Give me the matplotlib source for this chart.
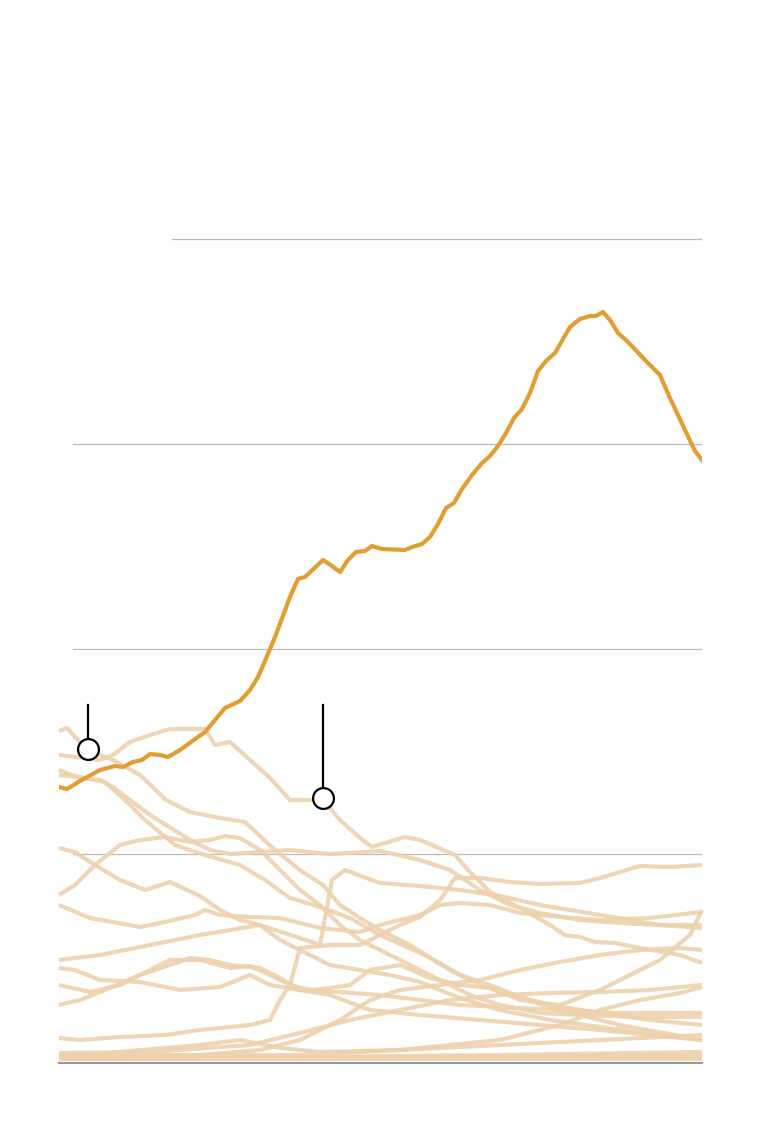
import matplotlib
matplotlib.use("Agg")
import matplotlib.pyplot as plt
import numpy as np

# Readings: (x reading, y reading) per series; converted to years / values below
main_x = [59,67,80,100,115,123,133,142,150,160,168,180,205,225,240,250,258,265,275,290,298,305,323,332,340,348,356,365,372,382,405,412,422,430,438,446,454,462,472,482,490,498,506,514,522,530,538,546,555,570,580,590,596,603,610,618,627,645,660,670,685,695,702]
main_y = [787,789,781,770,766,767,762,760,754,755,757,750,732,708,701,690,677,661,637,597,579,577,560,566,572,560,552,551,546,549,550,547,544,537,524,508,503,489,475,463,456,446,433,418,409,393,371,361,353,327,319,316,316,312,320,333,341,360,375,398,430,451,460]

bg = [
 ([59,67,80,100,113,140,166,190,220,245,275,300,323,340,360,380,410,434,460,490,520,550,600,650,702],
  [731,728,742,755,760,775,800,812,818,822,850,870,885,905,918,930,945,960,975,985,997,1005,1013,1020,1025]),
 ([59,100,113,130,150,170,205,215,230,250,270,290,305,323,340,360,372,385,405,420,455,470,490,520,550,565,580,595,615,640,680,702],
  [755,760,755,742,735,729,729,745,742,760,778,800,800,800,820,838,847,843,837,840,855,872,892,908,925,935,937,942,943,948,955,963]),
 ([59,80,100,113,130,150,166,190,210,230,260,290,330,380,420,450,480,510,540,580,620,660,702],
  [770,778,780,787,800,815,825,840,850,854,852,850,854,851,860,870,890,905,913,920,923,925,925]),
 ([59,80,105,125,145,175,205,240,265,290,320,350,380,400,425,450,480,520,560,620,702],
  [775,777,782,800,820,845,855,865,880,898,907,918,935,944,955,970,985,998,1010,1025,1040]),
 ([59,75,95,120,140,165,190,210,225,240,260,280,300,320,340,360,390,420,440,470,500,540,580,640,702],
  [895,885,865,845,840,837,842,840,836,838,850,870,890,905,925,940,955,970,980,995,1005,1013,1015,1017,1017]),
 ([59,75,95,120,145,170,200,220,240,260,280,310,330,360,390,420,460,500,550,600,702],
  [848,852,865,880,890,882,896,910,920,925,940,955,965,970,975,982,998,1010,1020,1027,1040]),
 ([59,90,140,165,195,205,220,250,280,320,360,380,400,420,440,460,490,520,560,600,650,702],
  [905,918,927,922,915,910,915,917,918,928,932,925,920,915,905,903,905,913,917,920,918,912]),
 ([59,100,150,200,260,300,320,332,345,380,420,460,500,540,600,660,702],
  [960,955,945,935,925,938,945,880,870,883,886,890,896,905,915,925,928]),
 ([59,90,120,140,170,200,230,250,270,290,310,330,350,370,400,430,460,490,520,560,600,630,660,690,702],
  [985,992,985,975,960,960,968,966,975,985,990,988,985,970,965,978,985,988,1000,1005,990,975,960,935,910]),
 ([59,80,120,166,200,250,270,280,290,300,330,360,380,400,420,440,455,480,510,540,580,600,620,640,670,702],
  [1038,1040,1037,1035,1030,1025,1020,1000,985,948,945,945,935,925,917,900,878,878,882,884,883,878,872,866,867,865]),
 ([59,75,100,140,180,220,250,270,300,340,380,420,460,500,560,620,702],
  [968,970,980,982,990,987,975,985,990,992,995,1000,1005,1007,1010,1013,1013]),
 ([59,200,260,300,340,370,400,440,480,520,560,600,640,680,702],
  [1058,1055,1050,1040,1020,1000,990,985,980,970,962,955,950,948,950]),
 ([59,80,110,140,170,190,210,230,260,280,300,330,370,420,480,540,600,702],
  [1005,1000,988,975,965,958,960,965,968,978,990,995,1010,1015,1020,1025,1030,1040]),
 ([59,150,250,300,350,400,450,500,550,600,650,702],
  [1053,1052,1045,1033,1020,1010,1000,995,993,992,990,985]),
 ([59,300,400,500,560,600,640,680,702],
  [1055,1055,1050,1040,1025,1010,1000,993,987]),
 ([59,200,240,280,320,400,500,600,702],
  [1057,1045,1040,1048,1052,1050,1045,1040,1035]),
 ([59,300,500,702], [1058,1057,1055,1052]),
 ([59,350,702], [1059,1058,1057]),
 ([59,350,702], [1055,1058,1055]),
 ([59,702], [1059,1059]),
]

def yr(px): return 1960 + (np.array(px) - 59) / 643 * 60
def val(py): return (1059 - np.array(py)) / 20.5

fig = plt.figure(figsize=(7.68, 11.22), dpi=100)
b = 1122 - 1059
ax = fig.add_axes([59/768, b/1122, 643/768, (1059-228.75)/1122])
ax.set_xlim(1960, 2020)
ax.set_ylim(0, 40.5)
for v in [10, 20, 30]:
    ax.axhline(v, xmin=14/643, xmax=1, color="#bbbbbb", lw=0.9, zorder=0)
ax.axhline(40, xmin=113/643, xmax=1, color="#bbbbbb", lw=0.9, zorder=0)
ax.axhline(-0.2, color="#999999", lw=1.5, zorder=0, clip_on=False)

for xs, ys in bg:
    ax.plot(yr(xs), val(ys), color="#eed2ae", lw=3, alpha=0.9, solid_capstyle="butt", clip_on=False)
ax.plot(yr(main_x), val(main_y), color="#e29e33", lw=3, zorder=5)

for px, top, cy in [(88, 705, 749), (323, 705, 798)]:
    ax.plot([yr(px)]*2, [val(top), val(cy-8)], color="black", lw=1.6, zorder=6)
    ax.plot(yr(px), val(cy), "o", ms=15, mfc="white", mec="black", mew=1.6, zorder=7)

ax.axis("off")
fig.savefig("out.png", dpi=100)
